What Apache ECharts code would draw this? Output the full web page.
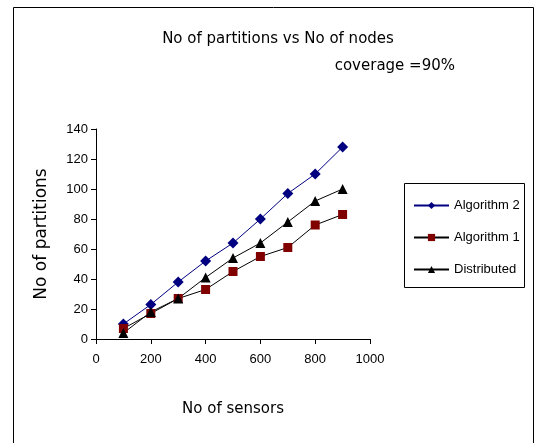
<!DOCTYPE html>
<html>
<head>
<meta charset="utf-8">
<script src="https://cdn.jsdelivr.net/npm/echarts@6/dist/echarts.min.js"></script>
<style>
  html, body { margin: 0; padding: 0; background: #fff; }
  #chart { width: 545px; height: 443px; }
</style>
</head>
<body>
<div id="chart"></div>
<script>
// number of sensors
const sensors = [100, 200, 300, 400, 500, 600, 700, 800, 900]
const algorithm2 = [10, 23, 38, 52, 64, 80, 97, 110, 128]
const algorithm1 = [7, 17, 27, 33, 45, 55, 61, 76, 83]
const distributed = [4, 18, 27, 41, 54, 64, 78, 92, 100]

const pair = (vals) => sensors.map((s, i) => [s, vals[i]])

const chart = echarts.init(document.getElementById('chart'))

const serie = (name, data, symbol, size, color, lineColor) => ({
  name: name,
  type: 'line',
  data: pair(data),
  symbol: symbol,
  symbolSize: size,
  itemStyle: { color: color },
  lineStyle: { color: lineColor, width: 1 },
  animation: false
})

chart.setOption({
  backgroundColor: '#fff',
  title: [
    {
      text: 'No of partitions vs No of nodes',
      left: 273, top: 27, textAlign: 'center',
      textStyle: { fontFamily: 'DejaVu Sans', fontSize: 15, fontWeight: 'normal', color: '#000' }
    },
    {
      text: 'coverage =90%',
      left: 450, top: 54, textAlign: 'right',
      textStyle: { fontFamily: 'DejaVu Sans', fontSize: 15, fontWeight: 'normal', color: '#000' }
    }
  ],
  graphic: [
    {
      type: 'rect', silent: true,
      shape: { x: 13.5, y: 7.5, width: 520, height: 450 },
      style: { fill: 'none', stroke: '#000', lineWidth: 1 }
    },
    {
      type: 'rect', silent: true,
      shape: { x: 404.5, y: 183.5, width: 120, height: 104 },
      style: { fill: '#fff', stroke: '#000', lineWidth: 1 }
    }
  ],
  grid: { left: 96, top: 129, width: 274, height: 210 },
  legend: {
    orient: 'vertical',
    left: 408, top: 194,
    itemWidth: 35, itemHeight: 9,
    itemGap: 19,
    z: 10,
    textStyle: { fontFamily: 'Liberation Sans', fontSize: 13, color: '#000' },
    data: ['Algorithm 2', 'Algorithm 1', 'Distributed']
  },
  xAxis: {
    type: 'value',
    min: 0, max: 1000, interval: 200,
    name: 'No of sensors',
    nameLocation: 'middle',
    nameGap: 63,
    nameTextStyle: { fontFamily: 'DejaVu Sans', fontSize: 15, color: '#000' },
    axisLine: { lineStyle: { color: '#000', width: 1 } },
    axisTick: { show: true, inside: false, length: 5, lineStyle: { color: '#000' } },
    axisLabel: { margin: 14, fontFamily: 'Liberation Sans', fontSize: 13, color: '#000', formatter: (v) => String(v) },
    splitLine: { show: false }
  },
  yAxis: {
    type: 'value',
    min: 0, max: 140, interval: 20,
    name: 'No of partitions',
    nameLocation: 'middle',
    nameGap: 46,
    nameTextStyle: { fontFamily: 'DejaVu Sans', fontSize: 17, color: '#000' },
    axisLine: { show: true, onZero: false, lineStyle: { color: '#000', width: 1 } },
    axisTick: { show: true, inside: false, length: 5, lineStyle: { color: '#000' } },
    axisLabel: { margin: 8, fontFamily: 'Liberation Sans', fontSize: 13, color: '#000' },
    splitLine: { show: false }
  },
  series: [
    serie('Algorithm 2', algorithm2, 'diamond', 11, '#000080', '#000080'),
    serie('Algorithm 1', algorithm1, 'rect', 9, '#800000', '#000'),
    serie('Distributed', distributed, 'triangle', 10, '#000', '#000')
  ]
})
</script>
</body>
</html>
